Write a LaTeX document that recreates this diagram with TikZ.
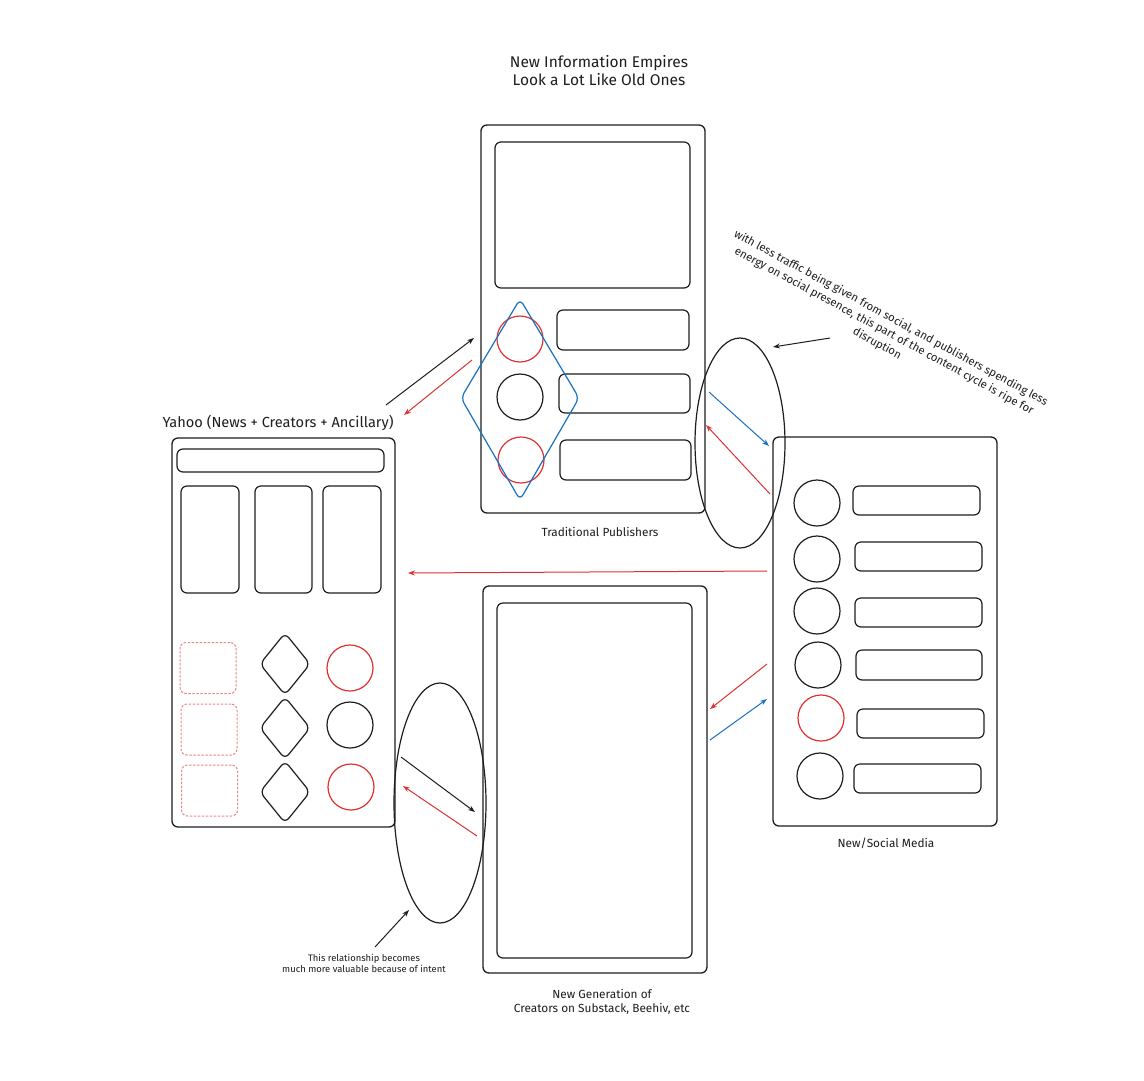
\documentclass[tikz,border=0pt]{standalone}
\usepackage{fontspec}
\setmainfont{Fira Sans}
\usetikzlibrary{arrows.meta}
\definecolor{ink}{HTML}{1E1E1E}
\definecolor{xred}{HTML}{E03131}
\definecolor{xblue}{HTML}{1971C2}
\definecolor{xpink}{HTML}{E8898A}
\tikzset{
  frame/.style={draw=ink, line width=1.3pt, rounded corners=6pt, inner sep=0pt},
  box/.style={draw=ink, line width=1.2pt, rounded corners=6pt, inner sep=0pt},
  dbox/.style={draw=xpink, line width=1pt, dashed, dash pattern=on 2.5pt off 1.5pt, rounded corners=6pt, inner sep=0pt, minimum width=56pt, minimum height=51pt},
  blob/.style={circle, draw=ink, line width=1.2pt, inner sep=0pt, minimum size=46pt},
  rblob/.style={blob, draw=xred},
  dia/.style={draw=ink, line width=1.2pt, rounded corners=6pt},
  arr/.style={line width=1pt, -{Stealth[length=7pt,width=5pt]}},
  lbl/.style={font=\fontsize{11.8}{14}\selectfont, text=ink, align=center},
}
\begin{document}
\begin{tikzpicture}[x=1pt,y=-1pt]
\useasboundingbox (0,0) rectangle (1144,1080);
\fill[white] (0,0) rectangle (1144,1080);

% title
\node[lbl, font=\fontsize{15.5}{18}\selectfont] (title) at (599,71) {New Information Empires\\Look a Lot Like Old Ones};

% ---------- Traditional publishers ----------
\node[frame, minimum width=224pt, minimum height=388pt] (pub) at (593,319) {};
\node[box, minimum width=195pt, minimum height=146pt] (pubtop) at (592.5,215) {};
\node[rblob] (pc1) at (520,339) {};
\node[blob] (pc2) at (520,397) {};
\node[rblob] (pc3) at (521,460) {};
\node[box, minimum width=132pt, minimum height=40pt] (pr1) at (623,330) {};
\node[box, minimum width=131pt, minimum height=39pt] (pr2) at (624.5,393.5) {};
\node[box, minimum width=131pt, minimum height=40pt] (pr3) at (625.5,460) {};
\coordinate (dT) at (520,299);
\coordinate (dR) at (579,398);
\coordinate (dB) at (520,500);
\coordinate (dL) at (461,398);
\draw[dia, draw=xblue] (dT) -- (dR) -- (dB) -- (dL) -- cycle;
\node[lbl] (publbl) at (600,532) {Traditional Publishers};

% ---------- New/Social media ----------
\node[frame, minimum width=224pt, minimum height=389pt] (soc) at (885,631.5) {};
\node[blob] (sc1) at (817,503) {};
\node[blob] (sc2) at (817,559) {};
\node[blob] (sc3) at (817,611) {};
\node[blob] (sc4) at (818,665) {};
\node[rblob] (sc5) at (821,718) {};
\node[blob] (sc6) at (820,776) {};
\node[box, minimum width=127pt, minimum height=29pt] (sr1) at (916.5,500.5) {};
\node[box, minimum width=127pt, minimum height=29pt] (sr2) at (918.5,556.5) {};
\node[box, minimum width=127pt, minimum height=29pt] (sr3) at (918.5,612.5) {};
\node[box, minimum width=126pt, minimum height=30pt] (sr4) at (919,665) {};
\node[box, minimum width=127pt, minimum height=29pt] (sr5) at (920.5,723.5) {};
\node[box, minimum width=127pt, minimum height=29pt] (sr6) at (917.5,778.5) {};
\node[lbl] (soclbl) at (886,843) {New/Social Media};

% ---------- Creators ----------
\node[frame, minimum width=224pt, minimum height=387pt] (cre) at (595,779.5) {};
\node[box, minimum width=195pt, minimum height=355pt] (creinner) at (594.5,780.5) {};
\node[lbl] (crelbl) at (602,1002) {New Generation of\\Creators on Substack, Beehiv, etc};

% ---------- Yahoo ----------
\node[frame, minimum width=223pt, minimum height=389pt] (yah) at (283.5,632.5) {};
\node[lbl, font=\fontsize{14.6}{17}\selectfont] (yahlbl) at (278,423) {Yahoo (News + Creators + Ancillary)};
\node[box, minimum width=207pt, minimum height=23pt] (ybar) at (280.5,460.5) {};
\node[box, minimum width=58pt, minimum height=107pt] (yc1) at (210,539.5) {};
\node[box, minimum width=57pt, minimum height=107pt] (yc2) at (283.5,539.5) {};
\node[box, minimum width=58pt, minimum height=107pt] (yc3) at (352,539.5) {};
\node[dbox] (yd1) at (208,668) {};
\node[dbox] (yd2) at (209,729.5) {};
\node[dbox] (yd3) at (209.5,790.5) {};
\draw[dia] (285,633) -- (310,664) -- (285,695) -- (260,664) -- cycle;
\draw[dia] (285,697) -- (310,728) -- (285,759) -- (260,728) -- cycle;
\draw[dia] (285,761) -- (310,792) -- (285,823) -- (260,792) -- cycle;
\node[rblob] (yo1) at (350,668) {};
\node[blob] (yo2) at (350,725) {};
\node[rblob] (yo3) at (351,787) {};

% ---------- ellipses ----------
\draw[ink, line width=1.2pt] (740,443) ellipse [x radius=45pt, y radius=105pt];
\coordinate (elA) at (740,443);
\draw[ink, line width=1.2pt] (440,803) ellipse [x radius=46pt, y radius=120pt];
\coordinate (elB) at (440,803);

% ---------- connectors ----------
\coordinate (a1s) at (386,405); \coordinate (a1e) at (474,338);
\draw[arr, ink] (a1s) -- (a1e);
\coordinate (a2s) at (472,360); \coordinate (a2e) at (404,415);
\draw[arr, xred] (a2s) -- (a2e);
\coordinate (a3s) at (709,392); \coordinate (a3e) at (769,446);
\draw[arr, xblue] (a3s) -- (a3e);
\coordinate (a4s) at (770,494); \coordinate (a4e) at (706,425);
\draw[arr, xred] (a4s) -- (a4e);
\coordinate (a5s) at (767,571); \coordinate (a5e) at (408,573);
\draw[arr, xred] (a5s) -- (a5e);
\coordinate (a6s) at (767,664); \coordinate (a6e) at (710,709);
\draw[arr, xred] (a6s) -- (a6e);
\coordinate (a7s) at (710,740); \coordinate (a7e) at (767,699);
\draw[arr, xblue] (a7s) -- (a7e);
\coordinate (a8s) at (401,757); \coordinate (a8e) at (475,812);
\draw[arr, ink] (a8s) -- (a8e);
\coordinate (a9s) at (477,836); \coordinate (a9e) at (403,786);
\draw[arr, xred] (a9s) -- (a9e);

% annotations
\node[lbl, font=\fontsize{11.3}{14.5}\selectfont, rotate=-28.5] (note1) at (884,331)
  {with less traffic being given from social, and publishers spending less\\energy on social presence, this part of the content cycle is ripe for\\disruption};
\coordinate (n1s) at (830,338); \coordinate (n1e) at (773,347);
\draw[arr, ink] (n1s) -- (n1e);

\node[lbl, font=\fontsize{9.4}{11}\selectfont] (note2) at (364,963)
  {This relationship becomes\\much more valuable because of intent};
\coordinate (n2s) at (375,947); \coordinate (n2e) at (409,910);
\draw[arr, ink] (n2s) -- (n2e);
\end{tikzpicture}
\end{document}
